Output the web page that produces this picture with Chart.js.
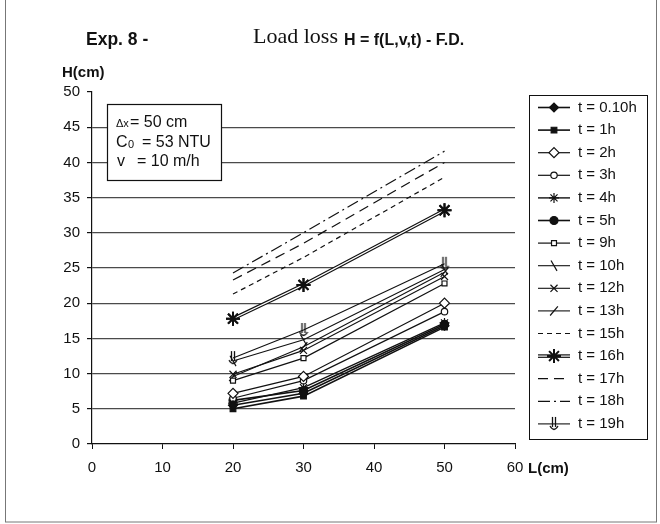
<!DOCTYPE html>
<html>
<head>
<meta charset="utf-8">
<title>Exp. 8 - Load loss</title>
<script src="https://cdn.jsdelivr.net/npm/chart.js@4.4.0/dist/chart.umd.min.js"></script>
<style>
	html, body { margin:0; padding:0; background:#fff; }
	#wrap { width:660px; height:524px; }
</style>
</head>
<body>
<div id="wrap"><canvas id="lossCanvas" width="660" height="524"></canvas></div>
<script>
/* 필터 길이 L (cm) */
const lengths = [20, 30, 50]
const xTicks = [0, 10, 20, 30, 40, 50, 60]
const yTicks = [0, 5, 10, 15, 20, 25, 30, 35, 40, 45, 50]

/* 시간별 손실수두 H (cm) */
const seriesNames = ['t = 0.10h','t = 1h','t = 2h','t = 3h','t = 4h','t = 5h','t = 9h','t = 10h','t = 12h','t = 13h','t = 15h','t = 16h','t = 17h','t = 18h','t = 19h']
const h0_10 = [5.5, 7.2, 16.8]
const h1 = [5.0, 6.8, 16.6]
const h2 = [7.2, 9.6, 20.0]
const h3 = [6.5, 9.0, 18.8]
const h4 = [5.8, 8.0, 17.2]
const h5 = [6.2, 7.6, 17.0]
const h9 = [9.0, 12.2, 22.8]
const h10 = [11.8, 14.8, 24.8]
const h12 = [9.9, 13.3, 23.8]
const h13 = [9.6, 13.8, 24.4]
const h15 = [21.3, 26.5, 37.9]
const h16 = [17.8, 22.6, 33.2]
const h17 = [23.3, 28.5, 40.0]
const h18 = [24.3, 30.0, 41.6]
const h19 = [12.2, 16.2, 25.6]
const seriesValues = [h0_10, h1, h2, h3, h4, h5, h9, h10, h12, h13, h15, h16, h17, h18, h19]

const INK = '#111'
const FONT = '"Liberation Sans", Arial, sans-serif'

/* 19h 마커 (소리굽쇠 모양) */
function makeForkMarker(){
	const c = document.createElement('canvas')
	c.width = 10
	c.height = 16
	const g = c.getContext('2d')
	g.strokeStyle = INK
	g.lineWidth = 1.3
	g.beginPath()
	g.moveTo(3.5, 1); g.lineTo(3.5, 11)
	g.moveTo(6.5, 1); g.lineTo(6.5, 11)
	g.moveTo(1, 10); g.quadraticCurveTo(5, 17, 9, 10)
	g.stroke()
	return c
}
const forkMarker = makeForkMarker()

/* 계열별 모양 */
const styles = [
	{ ps:'rectRot', r:4.5, fill:INK, lw:1.6 }
	,{ ps:'rect', r:4, fill:INK, lw:1.6 }
	,{ ps:'rectRot', r:5, fill:'#fff', lw:1.2 }
	,{ ps:'circle', r:3.2, fill:'#fff', lw:1.2 }
	,{ ps:'star', r:5, fill:INK, lw:1.4 }
	,{ ps:'circle', r:4, fill:INK, lw:1.6 }
	,{ ps:'rect', r:3.5, fill:'#fff', lw:1.2 }
	,{ ps:'line', r:6, rot:60, lw:1.1 }
	,{ ps:'crossRot', r:5, lw:1.1 }
	,{ ps:'line', r:6, rot:-50, lw:1.1 }
	,{ ps:false, r:0, dash:[5,4], lw:1.2 }
	,{ ps:'star', r:7, bw:2, lw:3.6, hollow:true }
	,{ ps:false, r:0, dash:[10,6], lw:1.2 }
	,{ ps:false, r:0, dash:[12,4,2,4], lw:1.2 }
	,{ ps:forkMarker, r:6, lw:1.1 }
]

const datasets = seriesNames.map((name, i) => {
	const s = styles[i]
	return {
		label : name
		,data : lengths.map((L, k) => ({ x:L, y:seriesValues[i][k] }))
		,borderColor : INK
		,borderWidth : s.lw
		,borderDash : s.dash || []
		,pointStyle : s.ps || 'circle'
		,pointRadius : s.r
		,pointRotation : s.rot || 0
		,pointBackgroundColor : s.fill || INK
		,pointBorderColor : INK
		,pointBorderWidth : s.bw || 1.2
		,tension : 0
		,fill : false
	}
})

/* 16h 이중선: 굵은 선 가운데를 흰 선으로 */
const hollowLine = {
	id : 'hollowLine'
	,afterDatasetsDraw(chart){
		const ctx = chart.ctx
		styles.forEach((s, i) => {
			if(!s.hollow) return
			const pts = chart.getDatasetMeta(i).data
			ctx.save()
			ctx.strokeStyle = '#fff'
			ctx.lineWidth = 1.2
			ctx.beginPath()
			pts.forEach((p, k) => {
				if(k === 0) ctx.moveTo(p.x, p.y)
				else ctx.lineTo(p.x, p.y)
			})
			ctx.stroke()
			ctx.restore()
			// 마커 다시
			pts.forEach(p => p.draw(ctx, chart.chartArea))
		})
	}
}

/* 제목, 축 제목, 조건 박스, 범례 */
const decorations = {
	id : 'decorations'
	,beforeDraw(chart){
		const ctx = chart.ctx
		ctx.save()
		ctx.fillStyle = '#fff'
		ctx.fillRect(0, 0, chart.width, chart.height)
		ctx.restore()
	}
	,afterDraw(chart){
		const ctx = chart.ctx
		ctx.save()
		ctx.fillStyle = INK
		ctx.textBaseline = 'alphabetic'

		// 제목
		ctx.font = 'bold 17.5px ' + FONT
		ctx.fillText('Exp. 8 -', 86, 45)
		ctx.font = '22px "Liberation Serif", "Times New Roman", serif'
		ctx.fillText('Load loss', 253, 43)
		ctx.font = 'bold 16px ' + FONT
		ctx.fillText('H = f(L,v,t) - F.D.', 344, 45)

		// 축 제목
		ctx.font = 'bold 15px ' + FONT
		ctx.fillText('H(cm)', 62, 77)
		ctx.fillText('L(cm)', 528, 473)

		// 조건 박스
		ctx.fillStyle = '#fff'
		ctx.fillRect(107, 104, 114, 76)
		ctx.strokeStyle = INK
		ctx.lineWidth = 1.2
		ctx.strokeRect(107.5, 104.5, 114, 76)
		ctx.fillStyle = INK
		ctx.font = '11px ' + FONT
		ctx.fillText('\u0394x', 116, 127)
		ctx.font = '16px ' + FONT
		ctx.fillText('= 50 cm', 130, 127)
		ctx.fillText('C', 116, 147)
		ctx.font = '11px ' + FONT
		ctx.fillText('0', 128, 148)
		ctx.font = '16px ' + FONT
		ctx.fillText('= 53 NTU', 142, 147)
		ctx.fillText('v', 117, 166)
		ctx.fillText('= 10 m/h', 137, 166)

		// 범례
		ctx.strokeStyle = INK
		ctx.lineWidth = 1
		ctx.strokeRect(529.5, 95.5, 118, 344)
		ctx.font = '15px ' + FONT
		ctx.textBaseline = 'middle'
		datasets.forEach((ds, i) => {
			const y = 107.5 + i * 22.6
			const s = styles[i]
			ctx.save()
			ctx.strokeStyle = INK
			ctx.lineWidth = s.lw
			ctx.setLineDash(s.dash || [])
			ctx.beginPath()
			ctx.moveTo(538, y)
			ctx.lineTo(570, y)
			ctx.stroke()
			ctx.setLineDash([])
			if(s.hollow){
				ctx.strokeStyle = '#fff'
				ctx.lineWidth = 1.2
				ctx.beginPath()
				ctx.moveTo(538, y)
				ctx.lineTo(570, y)
				ctx.stroke()
			}
			if(s.ps && Chart.helpers && Chart.helpers.drawPoint){
				ctx.fillStyle = s.fill || INK
				ctx.strokeStyle = INK
				ctx.lineWidth = s.bw || 1.2
				Chart.helpers.drawPoint(ctx, { pointStyle:s.ps, radius:s.r, rotation:s.rot || 0, borderWidth:s.bw || 1.2 }, 554, y)
			}
			ctx.restore()
			ctx.fillStyle = INK
			ctx.fillText(ds.label, 578, y)
		})

		// 바깥 테두리
		ctx.strokeStyle = '#777'
		ctx.lineWidth = 1
		ctx.strokeRect(5.5, -1, 651, 523)
		ctx.restore()
	}
}

const lossChart = new Chart(document.getElementById('lossCanvas'), {
	type : 'line'
	,data : { datasets : datasets }
	,options : {
		responsive : false
		,animation : false
		,events : []
		,layout : { padding : { left:52, right:145, top:92, bottom:50 } }
		,plugins : {
			legend : { display:false }
			,tooltip : { enabled:false }
		}
		,scales : {
			x : {
				type : 'linear'
				,min : 0
				,max : 60
				,afterBuildTicks : s => { s.ticks = xTicks.map(v => ({ value:v })) }
				,afterFit : s => { s.height = 30 }
				,grid : { drawOnChartArea:false, drawTicks:true, tickLength:5, tickColor:INK }
				,border : { color:INK, width:1.2 }
				,ticks : { color:INK, padding:10, maxRotation:0, font:{ family:FONT, size:15 } }
			}
			,y : {
				type : 'linear'
				,min : 0
				,max : 50
				,afterBuildTicks : s => { s.ticks = yTicks.map(v => ({ value:v })) }
				,afterFit : s => { s.width = 40 }
				,grid : {
					color : c => (c.tick && (c.tick.value === 50 || c.tick.value === 0)) ? 'rgba(0,0,0,0)' : '#4a4a4a'
					,lineWidth : 1.2
					,drawTicks : true
					,tickLength : 5
					,tickColor : INK
				}
				,border : { color:INK, width:1.2 }
				,ticks : { color:INK, padding:7, font:{ family:FONT, size:15 } }
			}
		}
	}
	,plugins : [hollowLine, decorations]
})
</script>
</body>
</html>
